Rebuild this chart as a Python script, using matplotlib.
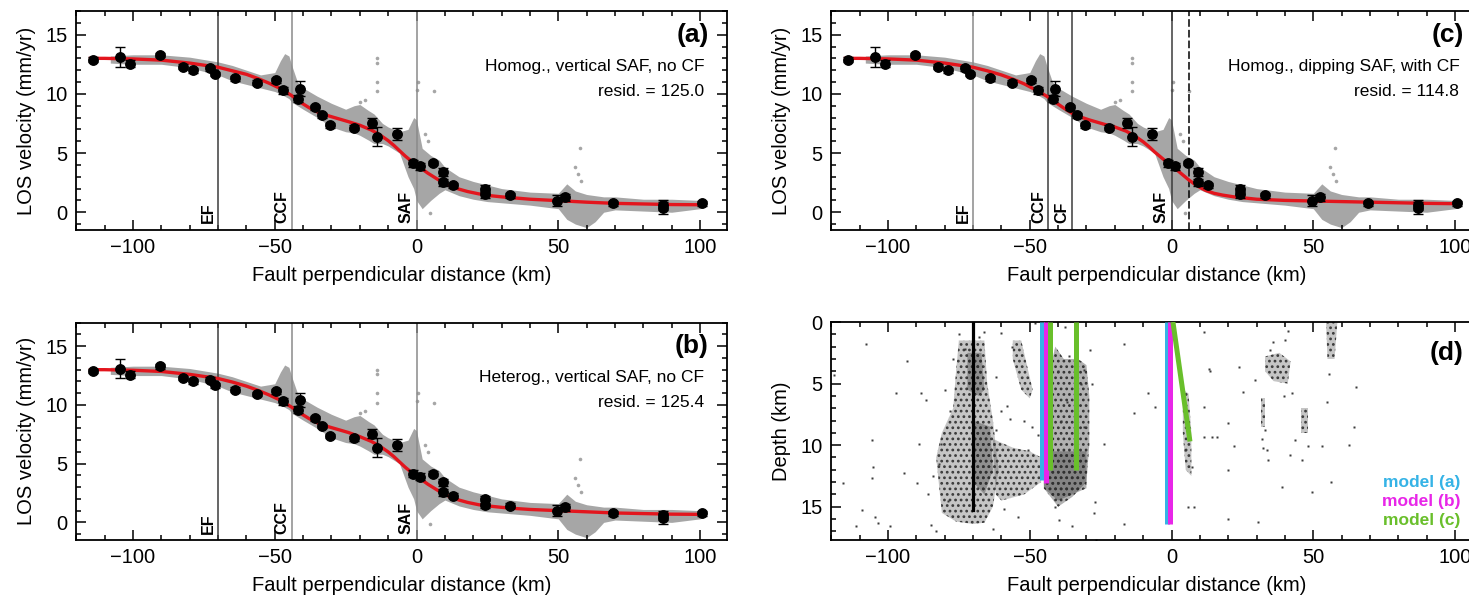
import numpy as np
import matplotlib.pyplot as plt
from matplotlib.patches import Polygon
from matplotlib.ticker import MultipleLocator

plt.rcParams['font.family'] = ['Liberation Sans', 'DejaVu Sans']
plt.rcParams['hatch.linewidth'] = 1.2

# ---------------- velocity profile data ----------------
gps_x = [-114, -104.6, -101, -90.5, -82.5, -78.7, -72.8, -71.1, -64, -56.4, -49.6, -47.2,
         -41.1, -41.7, -35.8, -33.4, -30.5, -22, -15.8, -14, -7, -1.3, 1.2, 5.7, 9.5, 9.5,
         13, 24.2, 24.2, 33, 49.5, 52.4, 69.4, 86.8, 86.8, 100.6]
gps_v = [12.9, 13.1, 12.55, 13.28, 12.3, 12.0, 12.15, 11.67, 11.3, 10.93, 11.16, 10.3,
         10.45, 9.6, 8.85, 8.2, 7.35, 7.15, 7.55, 6.36, 6.58, 4.15, 3.87, 4.15, 3.4, 2.55,
         2.26, 1.98, 1.5, 1.42, 0.99, 1.27, 0.76, 0.6, 0.34, 0.76]
gps_err = [0.2, 0.85, 0.3, 0.2, 0.2, 0.2, 0.2, 0.2, 0.2, 0.2, 0.2, 0.3,
           0.6, 0.3, 0.2, 0.2, 0.2, 0.2, 0.4, 0.8, 0.5, 0.3, 0.3, 0.2, 0.3, 0.3,
           0.2, 0.3, 0.3, 0.2, 0.45, 0.3, 0.2, 0.4, 0.5, 0.2]

model_x = [-115, -110, -100, -90, -80, -70, -65, -60, -56, -52, -48, -44, -41, -38, -34, -29,
           -24, -20, -16, -13, -10, -8, -6, -4, -2, 0, 2, 4, 6, 8, 10, 12, 15, 18, 22, 26,
           30, 35, 40, 50, 60, 70, 80, 90, 101]
model_a = [13.0, 13.0, 12.95, 12.85, 12.6, 12.25, 11.95, 11.65, 11.3, 10.9, 10.45, 9.85,
           9.3, 8.85, 8.35, 8.0, 7.65, 7.35, 6.95, 6.55, 6.05, 5.65, 5.2, 4.75, 4.35, 4.0,
           3.65, 3.3, 3.0, 2.7, 2.45, 2.2, 1.95, 1.75, 1.55, 1.4, 1.3, 1.2, 1.1, 0.98,
           0.85, 0.75, 0.7, 0.65, 0.63]
model_b = [13.0, 13.0, 12.95, 12.85, 12.6, 12.25, 11.95, 11.6, 11.25, 10.85, 10.4, 9.8,
           9.3, 8.85, 8.35, 8.0, 7.65, 7.3, 6.9, 6.5, 6.0, 5.6, 5.15, 4.7, 4.3, 3.95,
           3.6, 3.25, 2.95, 2.65, 2.4, 2.15, 1.9, 1.7, 1.5, 1.38, 1.28, 1.18, 1.1, 1.0,
           0.9, 0.8, 0.75, 0.7, 0.68]
model_c = [13.0, 13.0, 12.95, 12.85, 12.6, 12.25, 11.95, 11.6, 11.25, 10.85, 10.35, 9.8,
           9.3, 8.8, 8.2, 7.8, 7.45, 7.2, 6.85, 6.45, 5.95, 5.55, 5.1, 4.7, 4.3, 3.95,
           3.55, 3.15, 2.75, 2.4, 2.1, 1.85, 1.6, 1.45, 1.3, 1.2, 1.1, 1.05, 1.0, 0.95,
           0.9, 0.85, 0.8, 0.75, 0.72]

cloud_x = [-108, -100, -90, -80, -75, -70, -65, -60, -55, -50, -48, -46.5, -45, -44, -42,
           -40, -35, -30, -25, -22, -20, -17, -15, -12, -10, -6, -3, -1, 0, 2, 5, 8, 10,
           15, 20, 25, 30, 40, 50, 53, 56, 60, 63, 66, 70, 80, 90, 100, 102]
cloud_hi = [13.2, 13.3, 13.3, 13.1, 12.9, 12.7, 12.4, 12.0, 11.6, 11.8, 12.8, 13.4, 13.2,
            12.4, 11.0, 10.5, 9.8, 9.2, 8.7, 9.0, 9.1, 8.6, 8.3, 7.5, 7.2, 6.8, 7.0, 8.0,
            7.8, 5.4, 4.8, 4.4, 3.8, 3.0, 2.6, 2.3, 2.0, 1.7, 1.6, 2.4, 1.8, 1.5, 1.4,
            1.3, 1.3, 1.1, 1.1, 1.0, 0.9]
cloud_lo = [12.6, 12.5, 12.5, 12.2, 11.9, 11.6, 11.1, 10.8, 10.5, 10.2, 10.0, 9.8, 9.6,
            9.3, 9.0, 8.7, 8.0, 7.2, 6.8, 6.7, 6.5, 6.1, 5.8, 5.8, 5.6, 5.0, 3.0, 2.0,
            1.0, 0.3, 1.0, 1.6, 1.9, 1.4, 1.1, 0.9, 0.8, 0.6, 0.3, -0.6, -1.0, -1.3,
            -0.8, 0.0, 0.2, 0.1, 0.0, 0.3, 0.5]
outlier_x = [-14, -14, -14, -14, -18, -20, 0.5, 0, 6, 57.7, 56, 57, 58, 3, 4, 4.8]
outlier_v = [13.0, 12.6, 11.0, 10.2, 9.5, 9.3, 11.0, 10.3, 10.2, 5.4, 3.8, 3.2, 2.6, 6.6,
             6.0, -0.1]

# faults: name, position, line colour
faults_ab = [('EF', -70, '#3c3c3c'), ('CCF', -44, '#8a8a8a'), ('SAF', 0, '#8a8a8a')]
faults_c = [('EF', -70, '#8a8a8a'), ('CCF', -43.4, '#3c3c3c'), ('CF', -35, '#3c3c3c'),
            ('SAF', 0, '#3c3c3c')]
dipping_saf_bottom = 6

# ---------------- seismicity / fault geometry (panel d) ----------------
quake_x = [-107.6, -118.9, -105.8, -105.2, -105.8, -104.6, -103.5, -109.3, -99.3, -97,
           -93.3, -88.5, -86.7, -89.1, -89.7, -94.5, -111.2, -116, -81.4, -82, -60,
           -56.4, -61.8, -60, -49.3, -50.5, -41, -39.8, -35, -26.7, -27.4, -37.6, -48.3,
           -28.6, -23.8, -13.1, -16.7, -16.7, -8.3, -6, 5.9, 4.8, 7.1, 11.4, 13.2, 13.6,
           11.4, 23.9, 29.3, 25.1, 19.8, 19.8, 22.1, 14.4, 11.4, 16.2, 32.9, 33.5, 34.1,
           34.6, 35.8, 41.2, 42.4, 41.8, 38.8, 49.5, 43.6, 53.1, 56.1, 55.5, 65, 64.4,
           62.6, 7.9, 19.8, 30.5, 54.9, 48.3, 45.9, 31.8, 32.2, 39.5, 40.2, -84, -86, -79,
           -78, -80, -77, -62, -58, -57, -47, -46, -52, -28, -27, -31, -66, -68, -73,
           -75, -85, -83, -63, -59, -54, -40, -37, -32, -39, -31, -36]
quake_d = [1.75, 4.3, 9.6, 11.8, 12.7, 15.8, 16.3, 15.3, 16.6, 5.8, 3.2, 5.8, 6.35, 9.9,
           13.1, 12.3, 16.6, 13.1, 9.9, 11.5, 0.9, 2.0, 8.8, 7.2, 8.5, 10.4, 15.0, 16.1,
           16.6, 17.7, 15.5, 0.4, 0.1, 2.3, 9.9, 7.4, 16.4, 1.75, 5.8, 6.9, 15.0, 10.4,
           11.8, 0.8, 3.8, 4.0, 6.9, 3.65, 4.7, 5.7, 8.2, 12.0, 10.1, 9.3, 9.3, 9.3, 8.8,
           10.4, 11.2, 2.3, 1.6, 0.7, 5.8, 10.8, 13.4, 13.8, 9.6, 10.1, 13.0, 4.2, 5.3,
           8.5, 10.0, 15.0, 16.0, 16.2, 6.5, 10.1, 11.2, 9.5, 10.2, 6.0, 1.5, 12.5, 14.0,
           14.5, 7.2, 5.5, 3.0, 4.5, 6.8, 7.9, 9.2, 1.2, 8.0, 5.0, 14.6, 3.9, 0.8, 1.2,
           2.2, 1.0, 16.5, 17.0, 16.8, 15.2, 15.8, 4.0, 6.5, 5.0, 8.0, 8.5, 2.8]

# outlines of the dense seismicity clouds: (x list, depth list)
cluster_ef = ([-75, -66, -65, -63, -61, -63, -66, -70, -76, -81, -83, -81, -77, -76],
              [1.5, 1.5, 5, 8, 12, 15, 16.3, 16.4, 16.2, 15.5, 11, 9, 7, 4])
cluster_band = ([-63, -56, -50, -46, -46, -52, -60, -62],
                [9.5, 10.2, 10.5, 11, 13, 14, 14.5, 14])
cluster_streak = ([-56, -53, -49, -50, -53, -56], [1.5, 1.5, 5.5, 6.2, 5.5, 3])
cluster_ccf = ([-43, -41, -38, -33, -30, -29, -29, -30, -35, -40, -45, -45.5],
               [4, 2, 3, 3, 3.5, 6, 10, 13, 14.2, 15, 13.5, 10])
cluster_saf = ([4, 6, 7, 7, 5, 4], [5.5, 5.8, 9, 12.5, 12, 9])
cluster_e1 = ([33, 38, 42, 41, 36, 33], [2.8, 2.5, 3.2, 5, 4.8, 4])
cluster_e2 = ([31.5, 33, 33, 31.5], [6.2, 6.2, 8.5, 8.5])
cluster_e3 = ([45.5, 48, 48, 45.5], [7, 7, 9, 9])
cluster_e4 = ([54.5, 58.5, 57.5, 55], [0, 0, 3, 3])
clusters = [cluster_ef, cluster_band, cluster_streak, cluster_saf,
            cluster_e1, cluster_e2, cluster_e3, cluster_e4]
dense_clusters = [([-45, -30, -30, -40, -45], [10.5, 10.5, 13.5, 14.5, 13.5]),
                  ([-72, -67, -66, -68, -72], [2.5, 2.5, 5.5, 6, 5.5]),
                  ([-70, -64, -63, -66, -70], [8, 8.5, 12, 14, 13])]

ef_trace = ([-70, -70], [0, 15.3])
model_traces = [
    ('model (a)', '#35b3e6', [([-45.6, -45.6], [0, 12.8]), ([-1.7, -1.7], [0, 16.4])]),
    ('model (b)', '#e826e8', [([-44.3, -44.3], [0, 13.1]), ([-0.6, -0.6], [0, 16.4])]),
    ('model (c)', '#69bf2b', [([-42.7, -42.7], [0, 12.0]), ([-33.8, -33.8], [0, 12.0]),
                              ([0.5, 6.5], [0, 9.7])]),
]

XLIM = (-120.1, 109.4)


def style_axes(ax, ylim, ymaj, xlabel, ylabel):
    ax.set_xlim(*XLIM)
    ax.set_ylim(*ylim)
    ax.xaxis.set_major_locator(MultipleLocator(50))
    ax.xaxis.set_minor_locator(MultipleLocator(10))
    ax.yaxis.set_major_locator(MultipleLocator(ymaj))
    ax.yaxis.set_minor_locator(MultipleLocator(1))
    ax.tick_params(which='both', direction='in', top=True, right=True, width=1.1,
                   labelsize=14.5, pad=6)
    ax.tick_params(which='major', length=7)
    ax.tick_params(which='minor', length=3.5)
    for s in ax.spines.values():
        s.set_linewidth(1.3)
    ax.set_xlabel(xlabel, fontsize=14.5, labelpad=6)
    ax.set_ylabel(ylabel, fontsize=14.5, labelpad=7)


def profile(ax, curve, faults, letter, desc, resid, dashed=None):
    ax.fill_between(cloud_x, cloud_lo, cloud_hi, color='#a6a6a6', lw=0, zorder=1)
    ax.plot(outlier_x, outlier_v, 'o', color='#a6a6a6', ms=2.6, mec='none', zorder=1)
    for name, xf, col in faults:
        ax.axvline(xf, color=col, lw=1.1, zorder=2)
        ax.text(xf - 0.9, -0.95, name, rotation=90, ha='right', va='bottom',
                fontsize=11.5, fontweight='bold', zorder=5)
    if dashed is not None:
        ax.axvline(dashed, color='black', lw=1.1, ls=(0, (5, 2)), zorder=2)
    ax.errorbar(gps_x, gps_v, yerr=gps_err, fmt='o', color='black', ms=6.8,
                capsize=3.5, elinewidth=1, capthick=1, zorder=4)
    ax.plot(model_x, curve, color='#e3151d', lw=2.4, zorder=3)
    ax.text(103, 15.0, letter, ha='right', va='center', fontsize=19, fontweight='bold')
    ax.text(101.5, 12.3, desc, ha='right', va='center', fontsize=12.5)
    ax.text(101.5, 10.2, 'resid. = ' + resid, ha='right', va='center', fontsize=12.5)
    style_axes(ax, (-1.5, 17.0), 5, 'Fault perpendicular distance (km)',
               'LOS velocity (mm/yr)')


fig = plt.figure(figsize=(14.69, 6.02), dpi=100)
W, H = 1469, 602
def place(left, top, right, bottom):
    return fig.add_axes([left / W, 1 - bottom / H, (right - left) / W, (bottom - top) / H])

ax_a = place(76, 11, 726.7, 230)
ax_b = place(76, 322.7, 726.7, 540)
ax_c = place(831, 11, 1481.7, 230)
ax_d = place(831, 322, 1481.7, 540)

profile(ax_a, model_a, faults_ab, '(a)', 'Homog., vertical SAF, no CF', '125.0')
profile(ax_b, model_b, faults_ab, '(b)', 'Heterog., vertical SAF, no CF', '125.4')
profile(ax_c, model_c, faults_c, '(c)', 'Homog., dipping SAF, with CF', '114.8',
        dashed=dipping_saf_bottom)

# panel (d): seismicity clouds drawn as grey dotted regions plus single events
cloud_style = dict(facecolor=(0.3, 0.3, 0.3, 0.32), edgecolor='#3a3a3a', hatch='...',
                   lw=0, zorder=1)
for cx, cd in clusters:
    ax_d.add_patch(Polygon(np.column_stack([cx, cd]), closed=True, **cloud_style))
ax_d.add_patch(Polygon(np.column_stack(cluster_ccf), closed=True,
                       facecolor=(0.28, 0.28, 0.28, 0.42), edgecolor='#333333',
                       hatch='...', lw=0, zorder=1.5))
for cx, cd in dense_clusters:
    ax_d.add_patch(Polygon(np.column_stack([cx, cd]), closed=True,
                           facecolor=(0.25, 0.25, 0.25, 0.4), edgecolor='#303030',
                           hatch='...', lw=0, zorder=1.6))
ax_d.plot(quake_x, quake_d, 's', color='#3a3a3a', ms=1.8, mec='none', zorder=1.7)
ax_d.plot(ef_trace[0], ef_trace[1], color='black', lw=2.3, zorder=2)
for label, col, segs in model_traces:
    for sx, sd in segs:
        ax_d.plot(sx, sd, color=col, lw=3.6, solid_capstyle='butt', zorder=3)
for i, (label, col, segs) in enumerate(model_traces):
    ax_d.text(102, 13.0 + 1.55 * i, label, color=col, ha='right', va='center',
              fontsize=12.5, fontweight='bold')
ax_d.text(103, 2.5, '(d)', ha='right', va='center', fontsize=19, fontweight='bold')
style_axes(ax_d, (17.7, 0), 5, 'Fault perpendicular distance (km)', 'Depth (km)')

fig.savefig('out.png', dpi=100)
